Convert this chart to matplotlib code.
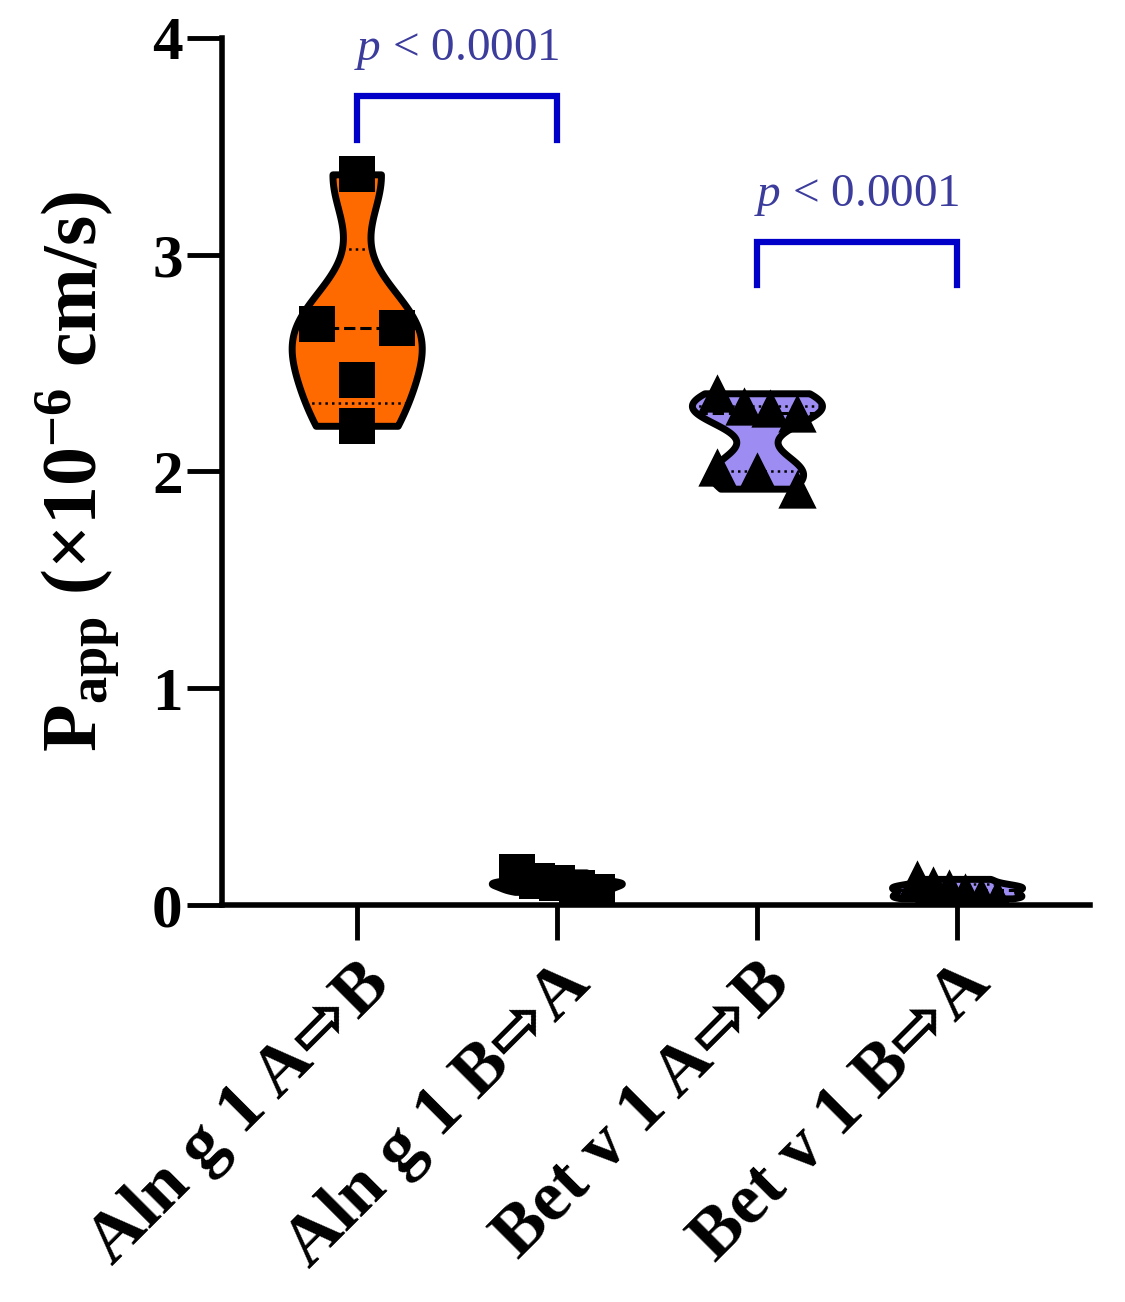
import numpy as np
import matplotlib.pyplot as plt

plt.rcParams['font.family'] = ['Liberation Serif', 'DejaVu Sans']
plt.rcParams['mathtext.fontset'] = 'custom'
plt.rcParams['mathtext.rm'] = 'Liberation Serif:bold'
plt.rcParams['mathtext.it'] = 'Liberation Serif:italic'

# data (Papp x10^-6 cm/s)
categories = ['Aln g 1 A⇨B', 'Aln g 1 B⇨A', 'Bet v 1 A⇨B', 'Bet v 1 B⇨A']
aln_ab = [3.37, 2.68, 2.66, 2.42, 2.21]
aln_ba = [0.15, 0.11, 0.10, 0.08, 0.06]
bet_ab = [2.36, 2.30, 2.29, 2.27, 2.02, 2.00, 1.92]
bet_ba = [0.12, 0.09, 0.08, 0.06, 0.04, 0.03]
groups = [aln_ab, aln_ba, bet_ab, bet_ba]
fills = ['#ff6a00', '#ff6a00', '#9d8df2', '#9d8df2']
markers = ['s', 's', '^', '^']
comparisons = [(0, 1, 'p < 0.0001'), (2, 3, 'p < 0.0001')]


def swarm_offsets(vals, gap=0.16, half=0.2):
    vals = np.asarray(vals)
    order = np.argsort(vals)
    offs = np.zeros(len(vals))
    rows, cur = [], [order[0]]
    for a, b in zip(order[:-1], order[1:]):
        if vals[b] - vals[a] < gap:
            cur.append(b)
        else:
            rows.append(cur)
            cur = [b]
    rows.append(cur)
    for row in rows:
        if len(row) > 1:
            row = sorted(row, key=lambda i: -vals[i])
            offs[row] = np.linspace(-half, half, len(row))
    return offs


def half_width(body, pos, y):
    v = body.get_paths()[0].vertices
    right = v[v[:, 0] >= pos]
    right = right[np.argsort(right[:, 1])]
    return np.interp(y, right[:, 1], right[:, 0]) - pos


fig = plt.figure(figsize=(11.25, 13.02), dpi=100)
ax = fig.add_axes([0.197, 0.305, 0.772, 0.666])

x = np.arange(len(categories))
vp = ax.violinplot(groups, positions=x, widths=0.65, bw_method=0.45,
                   showextrema=False)
for body, c in zip(vp['bodies'], fills):
    body.set_facecolor(c)
    body.set_edgecolor('black')
    body.set_linewidth(5)
    body.set_alpha(1)
    body.set_zorder(2)

# median (dashed) and quartiles (dotted)
for i, (body, vals) in enumerate(zip(vp['bodies'], groups)):
    q1, med, q3 = np.percentile(vals, [25, 50, 75], method='weibull')
    for q, ls, lw in [(q1, ':', 1.8), (med, '--', 2.2), (q3, ':', 1.8)]:
        w = half_width(body, i, q)
        ax.plot([i - w, i + w], [q, q], color='black', ls=ls, lw=lw, zorder=3)

for i, vals in enumerate(groups):
    offs = swarm_offsets(vals)
    ax.scatter(i + offs, vals, marker=markers[i], s=650 if markers[i] == 's' else 760,
               color='black', linewidths=0, zorder=4)

# significance brackets
bracket_y = [3.73, 3.06]
for (a, b, txt), yb in zip(comparisons, bracket_y):
    ax.plot([a, a, b, b], [yb - 0.2, yb, yb, yb - 0.2], color='#0000c8', lw=4.5,
            solid_joinstyle='miter', clip_on=False, zorder=5)
    ax.text((a + b) / 2, yb + 0.11, r'$p$ < 0.0001', ha='center', va='bottom',
            color='#3c3c9c', fontsize=34, fontfamily='Liberation Serif')

ax.set_xlim(-0.675, 3.665)
ax.set_ylim(0, 4)
ax.set_yticks([0, 1, 2, 3, 4])
ax.set_xticks(x)
ax.set_xticklabels(categories, rotation=45, ha='right', rotation_mode='anchor',
                   fontsize=52, fontweight='bold')
for lab in ax.get_yticklabels():
    lab.set_fontsize(44)
    lab.set_fontweight('bold')
ax.tick_params(axis='both', length=25, width=3.5, direction='out', pad=3)
ax.tick_params(axis='x', pad=8)
for side in ['top', 'right']:
    ax.spines[side].set_visible(False)
for side in ['left', 'bottom']:
    ax.spines[side].set_linewidth(4)

ax.set_ylabel(r'P$_{\mathrm{app}}$ (×10$^{-6}$ cm/s)', fontsize=56,
              fontweight='bold', labelpad=22)

fig.savefig('out.png', dpi=100)
